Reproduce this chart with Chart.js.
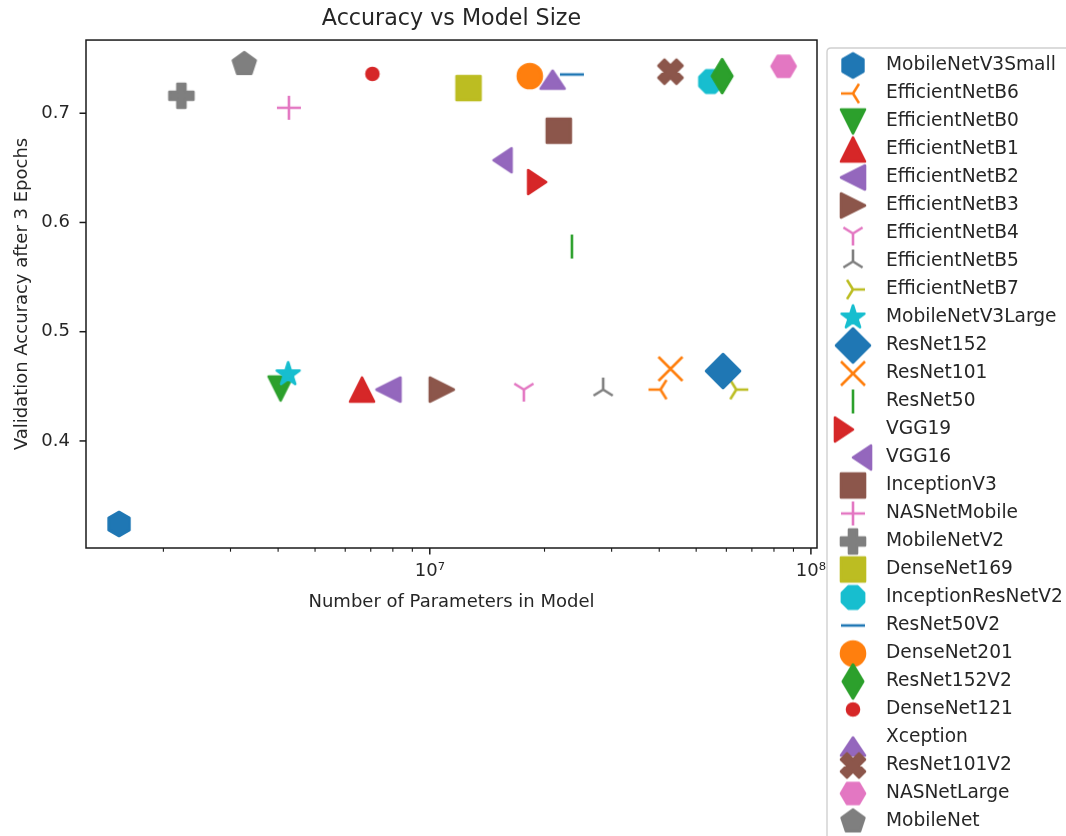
<!DOCTYPE html>
<html>
<head>
<meta charset="utf-8">
<script src="https://cdn.jsdelivr.net/npm/chart.js@4.4.1/dist/chart.umd.min.js"></script>
<style>
  html, body { margin: 0; padding: 0; background: #ffffff; }
  #wrap { width: 1066px; height: 836px; position: relative; overflow: hidden; }
</style>
</head>
<body>
<div id="wrap"><canvas id="chart" width="1066" height="836"></canvas></div>
<script>
// Models, their parameter counts and validation accuracy after 3 epochs
const modelNames = [
  'MobileNetV3Small', 'EfficientNetB6', 'EfficientNetB0', 'EfficientNetB1', 'EfficientNetB2',
  'EfficientNetB3', 'EfficientNetB4', 'EfficientNetB5', 'EfficientNetB7', 'MobileNetV3Large',
  'ResNet152', 'ResNet101', 'ResNet50', 'VGG19', 'VGG16', 'InceptionV3', 'NASNetMobile',
  'MobileNetV2', 'DenseNet169', 'InceptionResNetV2', 'ResNet50V2', 'DenseNet201',
  'ResNet152V2', 'DenseNet121', 'Xception', 'ResNet101V2', 'NASNetLarge', 'MobileNet'
];
const paramCounts = [
  1.53e6, 4.03e7, 4.06e6, 6.64e6, 7.79e6,
  1.075e7, 1.765e7, 2.85e7, 6.37e7, 4.25e6,
  5.88e7, 4.28e7, 2.36e7, 2.02e7, 1.47e7, 2.18e7, 4.27e6,
  2.23e6, 1.264e7, 5.45e7, 2.36e7, 1.83e7,
  5.85e7, 7.07e6, 2.10e7, 4.28e7, 8.48e7, 3.26e6
];
const valAccuracy = [
  0.324, 0.447, 0.448, 0.447, 0.447,
  0.447, 0.447, 0.447, 0.447, 0.461,
  0.464, 0.466, 0.578, 0.637, 0.657, 0.684, 0.705,
  0.716, 0.723, 0.729, 0.7355, 0.734,
  0.734, 0.736, 0.739, 0.738, 0.743, 0.745
];
// One marker shape per model (matplotlib-style codes)
const markerShapes = [
  'h', '3', 'v', '^', '<',
  '>', '1', '2', '4', '*',
  'D', 'x', '|', 'caretright', 'caretleft', 's', '+',
  'P', 's', '8', '_', 'o',
  'd', '.', 'caretup', 'X', 'H', 'p'
];
const palette = ['#1f77b4', '#ff7f0e', '#2ca02c', '#d62728', '#9467bd',
                 '#8c564b', '#e377c2', '#7f7f7f', '#bcbd22', '#17becf'];
const xMajorTicks = [1e7, 1e8];
const xTickLabels = ['10\u2077', '10\u2078'];
const yTicks = [0.4, 0.5, 0.6, 0.7];

const FONT = 'DejaVu Sans';
const TEXT = '#262626';
const MARKER_SIZE = 24;
const EDGE = 2.6;

// Build a small canvas holding one marker, centred on its anchor point
function makeMarker(shape, color) {
  const cv = document.createElement('canvas');
  cv.width = 60; cv.height = 60;
  const g = cv.getContext('2d');
  g.translate(30, 30);
  g.fillStyle = color;
  g.strokeStyle = color;
  g.lineWidth = EDGE;
  g.lineJoin = 'round';
  g.lineCap = 'butt';
  const r = MARKER_SIZE / 2;
  const rot = (pts, deg) => {
    const a = deg * Math.PI / 180, c = Math.cos(a), s = Math.sin(a);
    return pts.map(([x, y]) => [x * c - y * s, x * s + y * c]);
  };
  // points given in y-up units, scaled by k
  const fillPoly = (pts, k) => {
    g.beginPath();
    pts.forEach(([x, y], i) => {
      const px = x * k, py = -y * k;
      if (i) g.lineTo(px, py); else g.moveTo(px, py);
    });
    g.closePath();
    g.fill();
    g.stroke();
  };
  const regular = (n, startDeg) => {
    const pts = [];
    for (let i = 0; i < n; i++) {
      const a = (startDeg + 360 * i / n) * Math.PI / 180;
      pts.push([Math.sin(a), Math.cos(a)]);
    }
    return pts;
  };
  const strokeLines = (segs) => {
    g.beginPath();
    segs.forEach(([x1, y1, x2, y2]) => { g.moveTo(x1, -y1); g.lineTo(x2, -y2); });
    g.stroke();
  };
  const tri = [[0, 1], [-1, -1], [1, -1]];
  const arms = [[0, -1], [0.8, 0.5], [-0.8, 0.5]];
  const caret = [[-1, 1.5], [0, 0], [1, 1.5]];
  const triArms = (deg) => strokeLines(rot(arms, deg).map(([x, y]) => [0, 0, x * r, y * r]));
  switch (shape) {
    case 'o': g.beginPath(); g.arc(0, 0, r, 0, Math.PI * 2); g.fill(); g.stroke(); break;
    case '.': g.beginPath(); g.arc(0, 0, r / 2, 0, Math.PI * 2); g.fill(); g.stroke(); break;
    case '^': fillPoly(tri, r); break;
    case 'v': fillPoly(rot(tri, 180), r); break;
    case '<': fillPoly(rot(tri, 90), r); break;
    case '>': fillPoly(rot(tri, 270), r); break;
    case '1': triArms(0); break;
    case '2': triArms(180); break;
    case '3': triArms(270); break;
    case '4': triArms(90); break;
    case 's': fillPoly([[-1, -1], [1, -1], [1, 1], [-1, 1]], r); break;
    case 'p': fillPoly(regular(5, 0), r); break;
    case 'h': fillPoly(regular(6, 0), r); break;
    case 'H': fillPoly(regular(6, 30), r); break;
    case '8': fillPoly(regular(8, 22.5), r); break;
    case '*': {
      const pts = [];
      for (let i = 0; i < 10; i++) {
        const a = (36 * i) * Math.PI / 180, rr = i % 2 ? 0.381966 : 1;
        pts.push([rr * Math.sin(a), rr * Math.cos(a)]);
      }
      fillPoly(pts, r);
      break;
    }
    case 'D': fillPoly([[0, 1], [1, 0], [0, -1], [-1, 0]], r * Math.SQRT2); break;
    case 'd': fillPoly([[0, 1], [0.6, 0], [0, -1], [-0.6, 0]], r * Math.SQRT2); break;
    case 'P': fillPoly([[-1, -3], [1, -3], [1, -1], [3, -1], [3, 1], [1, 1], [1, 3], [-1, 3],
                        [-1, 1], [-3, 1], [-3, -1], [-1, -1]], MARKER_SIZE / 6); break;
    case 'X': fillPoly([[-1, -2], [0, -1], [1, -2], [2, -1], [1, 0], [2, 1], [1, 2], [0, 1],
                        [-1, 2], [-2, 1], [-1, 0], [-2, -1]], MARKER_SIZE / 4); break;
    case 'x': strokeLines([[-r, -r, r, r], [-r, r, r, -r]]); break;
    case '+': strokeLines([[-r, 0, r, 0], [0, -r, 0, r]]); break;
    case '|': strokeLines([[0, -r, 0, r]]); break;
    case '_': strokeLines([[-r, 0, r, 0]]); break;
    case 'caretup': fillPoly(rot(caret, 180), r); break;
    case 'caretleft': fillPoly(rot(caret, 270), r); break;
    case 'caretright': fillPoly(rot(caret, 90), r); break;
  }
  return cv;
}

const markerImages = modelNames.map((_, i) => makeMarker(markerShapes[i], palette[i % palette.length]));

const datasets = modelNames.map((name, i) => ({
  label: name,
  data: [{ x: paramCounts[i], y: valAccuracy[i] }],
  pointStyle: markerImages[i],
  pointRadius: 13,
  pointHoverRadius: 13,
  backgroundColor: palette[i % palette.length],
  borderColor: palette[i % palette.length],
  order: -i
}));

// Axes frame, tick marks and the legend panel
const framePlugin = {
  id: 'frame',
  afterDatasetsDraw(chart) {
    const { ctx, chartArea: a, scales } = chart;
    ctx.save();
    ctx.strokeStyle = '#1a1a1a';
    ctx.lineWidth = 1.5;
    ctx.strokeRect(a.left, a.top, a.right - a.left, a.bottom - a.top);
    // x ticks: majors at decades, minors in between
    const xs = scales.x;
    for (let d = 6; d <= 8; d++) {
      for (let m = 1; m <= 9; m++) {
        const v = m * Math.pow(10, d);
        if (v < xs.min || v > xs.max) continue;
        const px = xs.getPixelForValue(v);
        const major = m === 1;
        ctx.lineWidth = major ? 1.5 : 1.1;
        ctx.beginPath();
        ctx.moveTo(px, a.bottom);
        ctx.lineTo(px, a.bottom + (major ? 6.5 : 3.7));
        ctx.stroke();
      }
    }
    const ys = scales.y;
    ctx.lineWidth = 1.5;
    yTicks.forEach(v => {
      const py = ys.getPixelForValue(v);
      ctx.beginPath();
      ctx.moveTo(a.left - 6.5, py);
      ctx.lineTo(a.left, py);
      ctx.stroke();
    });
    ctx.restore();
  },
  afterDraw(chart) {
    const { ctx } = chart;
    ctx.save();
    const bx = 827, by = 48, bw = 300, bh = 820, rad = 4;
    ctx.beginPath();
    ctx.moveTo(bx + rad, by);
    ctx.lineTo(bx + bw, by);
    ctx.lineTo(bx + bw, by + bh);
    ctx.lineTo(bx, by + bh);
    ctx.lineTo(bx, by + rad);
    ctx.quadraticCurveTo(bx, by, bx + rad, by);
    ctx.fillStyle = 'rgba(255,255,255,0.8)';
    ctx.fill();
    ctx.strokeStyle = '#d0d0d0';
    ctx.lineWidth = 1.4;
    ctx.stroke();
    ctx.font = '18.6px "' + FONT + '"';
    ctx.fillStyle = TEXT;
    ctx.textAlign = 'left';
    ctx.textBaseline = 'alphabetic';
    chart.data.datasets.forEach((ds, i) => {
      const cy = 65.5 + 28 * i;
      const img = ds.pointStyle;
      ctx.drawImage(img, 853 - img.width / 2, cy - img.height / 2);
      ctx.fillText(ds.label, 886, cy + 4.5);
    });
    ctx.restore();
  }
};

new Chart(document.getElementById('chart'), {
  type: 'scatter',
  data: { datasets },
  options: {
    responsive: false,
    animation: false,
    devicePixelRatio: 1,
    events: [],
    layout: { padding: { top: 0, left: 0, right: 249, bottom: 0 } },
    plugins: {
      legend: { display: false },
      tooltip: { enabled: false },
      title: {
        display: true,
        text: 'Accuracy vs Model Size',
        fullSize: false,
        color: TEXT,
        font: { family: FONT, size: 22.2, weight: 'normal' },
        padding: { top: 6.2, bottom: 7.2 }
      }
    },
    scales: {
      x: {
        type: 'logarithmic',
        min: 1.2531e6,
        max: 1.0375e8,
        afterFit(s) { s.height = 288; },
        afterBuildTicks(s) { s.ticks = xMajorTicks.map(v => ({ value: v })); },
        ticks: {
          autoSkip: false,
          maxRotation: 0,
          padding: 13,
          color: TEXT,
          font: { family: FONT, size: 18 },
          callback(v) {
            const k = xMajorTicks.indexOf(v);
            return k >= 0 ? xTickLabels[k] : '';
          }
        },
        grid: { display: false, drawTicks: false },
        border: { display: false },
        title: {
          display: true,
          text: 'Number of Parameters in Model',
          color: TEXT,
          font: { family: FONT, size: 18 },
          padding: { top: 0, bottom: 223.2 }
        }
      },
      y: {
        min: 0.302,
        max: 0.767,
        afterFit(s) { s.width = 86; },
        afterBuildTicks(s) { s.ticks = yTicks.map(v => ({ value: v })); },
        ticks: {
          padding: 16,
          color: TEXT,
          font: { family: FONT, size: 18 },
          callback(v) { return v.toFixed(1); }
        },
        grid: { display: false, drawTicks: false },
        border: { display: false },
        title: {
          display: true,
          text: 'Validation Accuracy after 3 Epochs',
          color: TEXT,
          font: { family: FONT, size: 18 },
          padding: { top: 11.5, bottom: 0 }
        }
      }
    }
  },
  plugins: [framePlugin]
});
</script>
</body>
</html>
